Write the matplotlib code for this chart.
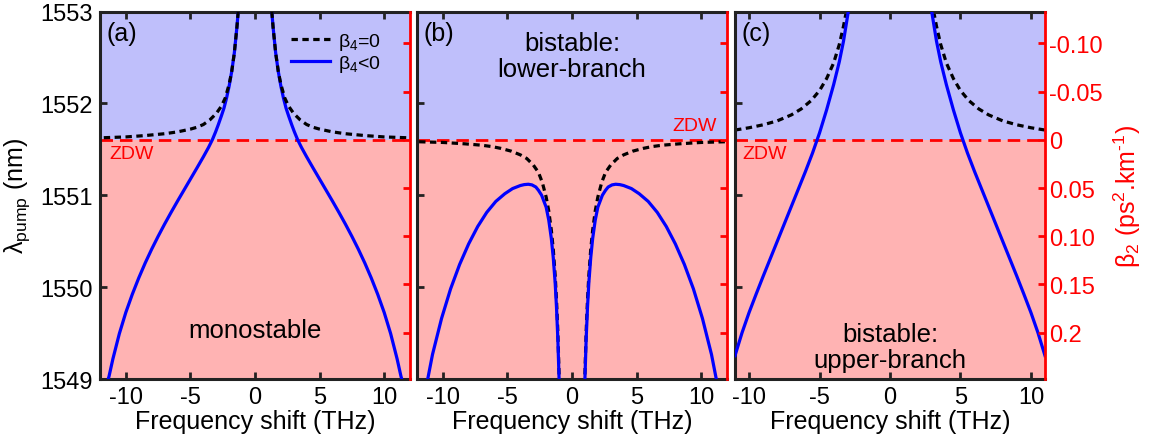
import matplotlib
matplotlib.use("Agg")
import matplotlib.pyplot as plt

plt.rcParams["font.family"] = ["Liberation Sans", "DejaVu Sans"]
plt.rcParams["mathtext.fontset"] = "custom"
plt.rcParams["mathtext.rm"] = "Liberation Sans"
plt.rcParams["mathtext.it"] = "Liberation Sans:italic"
plt.rcParams["mathtext.default"] = "regular"
plt.rcParams["axes.unicode_minus"] = False

# Zero-dispersion wavelength (nm)
zdw = 1551.6

# (a) monostable -- positive frequency half (THz), pump wavelength (nm)
a_dash_f = [1.30, 1.40, 1.60, 1.80, 2.00, 2.30, 2.60, 3.00, 3.50, 4.00, 4.50,
            5.00, 6.00, 7.00, 8.50, 10.0, 12.0]
a_dash_l = [1553.00, 1552.83, 1552.55, 1552.35, 1552.21, 1552.06, 1551.97,
            1551.89, 1551.82, 1551.77, 1551.74, 1551.72, 1551.69, 1551.67,
            1551.65, 1551.635, 1551.625]
a_sol_f = [1.30, 1.40, 1.60, 1.80, 2.00, 2.20, 2.40, 2.60, 2.85, 3.05, 3.30,
           3.60, 4.00, 4.50, 5.00, 5.50, 6.00, 6.50, 7.00, 7.50, 8.00, 8.50,
           9.00, 9.50, 10.0, 10.5, 11.0, 11.3, 11.36]
a_sol_l = [1553.00, 1552.83, 1552.55, 1552.35, 1552.19, 1552.06, 1551.95,
           1551.865, 1551.765, 1551.69, 1551.605, 1551.52, 1551.418, 1551.296,
           1551.176, 1551.056, 1550.936, 1550.813, 1550.686, 1550.553,
           1550.413, 1550.263, 1550.10, 1549.922, 1549.725, 1549.495,
           1549.22, 1549.03, 1549.00]

# (b) bistable, lower branch
b_dash_f = [1.00, 1.10, 1.20, 1.30, 1.45, 1.60, 1.80, 2.00, 2.30, 2.60, 3.00,
            3.50, 4.00, 4.70, 5.50, 6.20, 7.00, 8.30, 10.0, 12.0]
b_dash_l = [1549.05, 1549.53, 1549.86, 1550.12, 1550.41, 1550.62, 1550.83,
            1550.98, 1551.14, 1551.25, 1551.33, 1551.40, 1551.44, 1551.48,
            1551.51, 1551.53, 1551.545, 1551.56, 1551.575, 1551.583]
b_sol_f = [1.00, 1.10, 1.20, 1.30, 1.45, 1.60, 1.80, 2.00, 2.35, 2.60, 2.80,
           3.10, 3.38, 3.70, 4.00, 4.60, 5.20, 5.90, 6.60, 7.30, 8.00, 8.70,
           9.40, 10.1, 10.8, 11.17]
b_sol_l = [1549.00, 1549.45, 1549.78, 1550.04, 1550.32, 1550.53, 1550.73,
           1550.87, 1551.00, 1551.055, 1551.09, 1551.113, 1551.12, 1551.116,
           1551.106, 1551.073, 1551.017, 1550.933, 1550.814, 1550.66,
           1550.471, 1550.247, 1549.981, 1549.659, 1549.267, 1549.00]

# (c) bistable, upper branch
c_dash_f = [3.10, 3.30, 3.60, 4.00, 4.50, 5.00, 5.60, 6.30, 7.00, 8.00, 9.00,
            10.0, 11.0]
c_dash_l = [1553.00, 1552.84, 1552.64, 1552.44, 1552.27, 1552.14, 1552.03,
            1551.94, 1551.875, 1551.81, 1551.767, 1551.735, 1551.71]
c_sol_f = [2.96, 3.30, 3.60, 4.00, 4.50, 5.00, 5.50, 6.00, 6.50, 7.00, 7.50,
           8.00, 8.50, 9.00, 9.50, 10.0, 10.5, 11.0]
c_sol_l = [1553.00, 1552.677, 1552.452, 1552.204, 1551.929, 1551.679,
           1551.459, 1551.259, 1551.069, 1550.879, 1550.689, 1550.499,
           1550.309, 1550.119, 1549.924, 1549.724, 1549.504, 1549.254]

x_ticks = [-10, -5, 0, 5, 10]
y_ticks = [1549, 1550, 1551, 1552, 1553]
b2_ticks = [-0.10, -0.05, 0, 0.05, 0.10, 0.15, 0.2]
b2_labels = ["-0.10", "-0.05", "0", "0.05", "0.10", "0.15", "0.2"]

blue_bg = "#bfbffb"
red_bg = "#ffb3b3"
spine_k = "#222222"

fig = plt.figure(figsize=(11.51, 4.35), dpi=100)
lefts = [100 / 1151, 417 / 1151, 735 / 1151]
w = 310 / 1151
panels = [
    ("(a)", 12, a_dash_f, a_dash_l, a_sol_f, a_sol_l, True),
    ("(b)", 12, b_dash_f, b_dash_l, b_sol_f, b_sol_l, False),
    ("(c)", 11, c_dash_f, c_dash_l, c_sol_f, c_sol_l, False),
]

axes = []
for i, (tag, xm, df, dl, sf, sl, dash_top) in enumerate(panels):
    ax = fig.add_axes([lefts[i], 0.1264, w, 0.8448])
    axes.append(ax)
    ax.set_xlim(-xm, xm)
    ax.set_ylim(1549, 1553)
    ax.axhspan(zdw, 1553, color=blue_bg, lw=0, zorder=0)
    ax.axhspan(1549, zdw, color=red_bg, lw=0, zorder=0)
    ax.axhline(zdw, color="#ff0000", lw=2, ls=(0, (4.5, 2.5)), zorder=2)

    # dashed goes over the solid line where they overlap in (a)
    dz = 4 if dash_top else 2
    for sgn in (-1, 1):
        ax.plot([sgn * f for f in df], dl, color="black", lw=2.3,
                ls=(0, (2.0, 1.4)), zorder=dz,
                label="β$_4$=0" if sgn == 1 else None)
        ax.plot([sgn * f for f in sf], sl, color="#0000ff", lw=2.3,
                zorder=3, label="β$_4$<0" if sgn == 1 else None)

    ax.set_xticks(x_ticks)
    ax.set_xticklabels([str(t) for t in x_ticks])
    ax.set_yticks(y_ticks)
    ax.tick_params(direction="in", length=5, width=2, color=spine_k,
                   labelsize=17, top=True, right=False, pad=5)
    if i > 0:
        ax.set_yticklabels([])
    for s in ("left", "top", "bottom"):
        ax.spines[s].set_linewidth(2.2)
        ax.spines[s].set_color(spine_k)
    ax.spines["right"].set_visible(False)
    ax.set_xlabel("Frequency shift (THz)", fontsize=18, labelpad=1)
    ax.text(0.02, 0.975, tag, transform=ax.transAxes, fontsize=18,
            ha="left", va="top")

    # beta2 scale on the right spine
    ax2 = ax.twinx()
    ax2.set_ylim(0.248, -0.133)
    ax2.set_yticks(b2_ticks)
    ax2.set_yticklabels(b2_labels if i == 2 else [])
    ax2.tick_params(direction="in", length=5, width=2, color="#ff0000",
                    labelcolor="#ff0000", labelsize=17, pad=3)
    for s in ("left", "top", "bottom"):
        ax2.spines[s].set_visible(False)
    ax2.spines["right"].set_color("#ff0000")
    ax2.spines["right"].set_linewidth(2)
    if i == 2:
        ax2.set_ylabel(r"β$_2$ (ps$^2$.km$^{\text{-}1}$)", color="#ff0000",
                       fontsize=18, labelpad=6)

ax_a, ax_b, ax_c = axes
ax_a.set_ylabel("λ$_{pump}$ (nm)", fontsize=18, labelpad=6)

ax_a.text(-11.3, 1551.45, "ZDW", color="#ff0000", fontsize=14,
          ha="left", va="center")
ax_b.text(11.2, 1551.76, "ZDW", color="#ff0000", fontsize=14,
          ha="right", va="center")
ax_c.text(-10.45, 1551.45, "ZDW", color="#ff0000", fontsize=14,
          ha="left", va="center")

ax_a.text(0, 1549.53, "monostable", fontsize=18.5, ha="center", va="center")
ax_b.text(0, 1552.52, "bistable:\nlower-branch", fontsize=18.5,
          ha="center", va="center", linespacing=1.1)
ax_c.text(0, 1549.35, "bistable:\nupper-branch", fontsize=18.5,
          ha="center", va="center", linespacing=1.1)

ax_a.legend(loc="upper right", bbox_to_anchor=(0.95, 0.985), frameon=False,
            fontsize=14, handlelength=2.0, handletextpad=0.4,
            labelspacing=0.05, borderpad=0.2)

fig.savefig("out.png", dpi=100)
